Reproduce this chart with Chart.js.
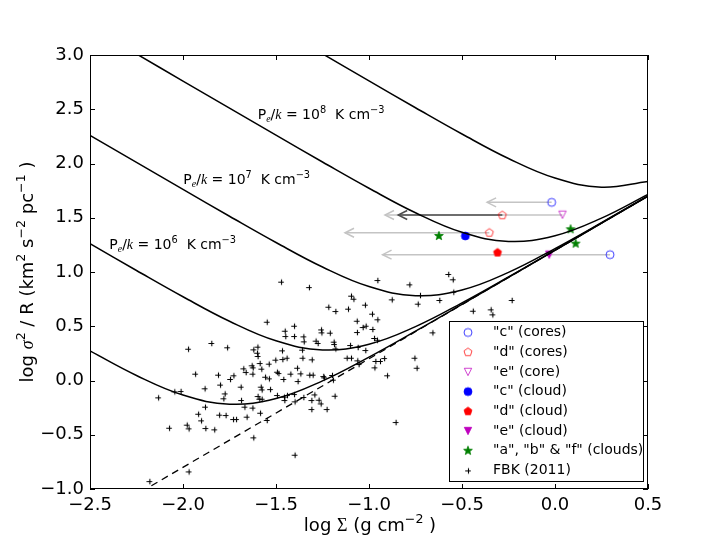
<!DOCTYPE html>
<html><head><meta charset="utf-8">
<script src="https://cdn.jsdelivr.net/npm/chart.js@4/dist/chart.umd.min.js"></script>
<style>html,body{margin:0;padding:0;background:#fff;}canvas{display:block;}</style>
</head><body>
<canvas id="c" width="720" height="544"></canvas>
<script>
// ---------- DATA ----------
const xTicks = [-2.5, -2.0, -1.5, -1.0, -0.5, 0.0, 0.5];
const xTickLabels = ['\u22122.5', '\u22122.0', '\u22121.5', '\u22121.0', '\u22120.5', '0.0', '0.5'];
const yTicks = [-1.0, -0.5, 0.0, 0.5, 1.0, 1.5, 2.0, 2.5, 3.0];
const yTickLabels = ['\u22121.0', '\u22120.5', '0.0', '0.5', '1.0', '1.5', '2.0', '2.5', '3.0'];

// model curves (log sigma^2/R vs log Sigma) for P_e/k = 1e5 ... 1e9
const curveX = [-2.5, -2.25, -2.0, -1.75, -1.5, -1.25, -1.0, -0.75, -0.5, -0.25, 0.0, 0.25, 0.5];
const curveP5 = [0.272, 0.046, -0.134, -0.218, -0.166, -0.003, 0.216, 0.455, 0.702, 0.951, 1.200, 1.450, 1.700];
const curveP6 = [1.261, 1.014, 0.772, 0.546, 0.366, 0.282, 0.335, 0.497, 0.716, 0.955, 1.202, 1.451, 1.700];
const curveP7 = [2.260, 2.011, 1.761, 1.514, 1.272, 1.046, 0.866, 0.782, 0.835, 0.997, 1.216, 1.455, 1.702];
const curveP8 = [3.260, 3.010, 2.760, 2.510, 2.261, 2.014, 1.772, 1.546, 1.366, 1.282, 1.335, 1.497, 1.716];
const curveP9 = [null, null, null, null, 3.260, 3.011, 2.761, 2.514, 2.272, 2.046, 1.866, 1.782, 1.835];

// dashed virial line
const dashX = [-2.17, 0.5];
const dashY = [-0.97, 1.70];

// FBK (2011) points
const fbkX = [-1.473,-1.323,-0.955,-0.783,-0.878,-0.726,-0.622,-1.097,-1.084,-1.219,
-1.181,-1.022,-1.113,-1.066,-0.984,-0.955,-1.018,-1.034,-1.065,-0.982,
-0.973,-0.957,-0.738,-0.659,-1.550,-1.403,-1.453,-1.450,-1.403,-1.353,
-1.351,-1.287,-1.276,-1.258,-1.256,-1.211,-1.190,-1.188,-1.181,-1.102,
-1.061,-1.020,-1.848,-1.973,-1.763,-1.622,-1.600,-1.602,-1.599,-1.468,
-1.466,-1.443,-1.360,-1.358,-1.308,-1.120,-1.097,-1.063,-0.966,-0.941,
-0.919,-1.056,-0.971,-0.903,-0.756,-0.744,-1.935,-1.812,-1.884,-1.801,
-1.747,-1.729,-1.676,-1.663,-1.631,-1.625,-1.627,-1.588,-1.579,-1.539,
-1.504,-1.495,-1.487,-1.559,-1.538,-1.461,-1.423,-1.387,-1.369,-1.384,
-1.321,-1.303,-1.246,-1.242,-1.199,-1.194,-2.047,-2.013,-2.134,-2.075,
-1.980,-1.970,-1.919,-1.903,-1.882,-1.880,-1.832,-1.806,-1.771,-1.783,
-1.776,-1.731,-1.715,-1.690,-1.688,-1.670,-1.658,-1.627,-1.622,-1.586,
-1.582,-1.577,-1.599,-1.590,-1.577,-1.532,-1.550,-1.495,-1.457,-1.455,
-1.441,-1.403,-1.400,-1.353,-1.310,-1.310,-1.294,-1.271,-1.260,-1.228,
-1.185,-1.400,-0.857,-1.970,-2.181,-0.574,-0.550,-0.547,-0.442,-0.346,
-0.337,-0.233];
const fbkY = [0.911,0.861,0.926,0.886,0.748,0.788,0.742,0.782,0.754,0.680,
0.640,0.699,0.662,0.551,0.616,0.564,0.505,0.493,0.447,0.475,
0.392,0.376,0.708,0.444,0.542,0.505,0.459,0.410,0.410,0.407,
0.361,0.367,0.346,0.471,0.444,0.441,0.358,0.336,0.296,0.327,
0.309,0.281,0.346,0.293,0.306,0.287,0.312,0.256,0.226,0.278,
0.198,0.210,0.284,0.210,0.195,0.210,0.210,0.186,0.180,0.180,
0.207,0.152,0.121,0.048,0.210,0.118,0.063,0.054,-0.072,-0.038,
0.014,0.048,0.112,0.078,0.140,0.121,0.063,0.161,0.109,0.155,
0.192,0.081,0.069,0.035,0.020,0.014,0.063,0.118,0.066,-0.005,
0.054,0.054,0.041,0.029,0.051,0.008,-0.100,-0.097,-0.155,-0.435,
-0.407,-0.441,-0.306,-0.367,-0.241,-0.438,-0.450,-0.315,-0.318,-0.164,
-0.119,-0.355,-0.355,-0.057,-0.180,-0.241,-0.333,-0.250,-0.524,-0.297,
-0.057,-0.082,-0.143,-0.168,-0.168,-0.079,-0.364,-0.134,-0.149,-0.180,
-0.134,-0.125,-0.192,-0.152,-0.180,-0.263,-0.128,-0.177,-0.211,-0.263,
-0.140,-0.684,-0.383,-0.838,-0.927,0.982,0.933,0.818,0.643,0.656,
0.610,0.742];

// observed markers
const cCoresX = [-0.018, 0.296];   const cCoresY = [1.642, 1.160];
const dCoresX = [-0.283, -0.353];  const dCoresY = [1.523, 1.362];
const eCoreX  = [0.040];           const eCoreY  = [1.528];
const cCloudX = [-0.482];          const cCloudY = [1.332];
const dCloudX = [-0.309];          const dCloudY = [1.179];
const eCloudX = [-0.031];          const eCloudY = [1.160];
const abfX = [-0.624, 0.084, 0.111]; const abfY = [1.332, 1.394, 1.261];

// arrows (from core value leftwards)
const arrowFromX = [-0.018, 0.040, -0.283, -0.353, 0.296];
const arrowToX   = [-0.365, -0.914, -0.843, -1.129, -0.927];
const arrowY     = [1.642, 1.525, 1.525, 1.362, 1.160];
const arrowShade = ['light', 'light', 'dark', 'light', 'light'];

const legendLabels = ['"c" (cores)', '"d" (cores)', '"e" (core)', '"c" (cloud)', '"d" (cloud)', '"e" (cloud)', '"a", "b" & "f" (clouds)', 'FBK (2011)'];
const curveLabelExps = ['6', '7', '8'];
const curveLabelAnchorX = [-2.396, -1.998, -1.598];
const curveLabelAnchorY = [1.209, 1.808, 2.407];

// ---------- STYLE / MARKERS ----------
const SANS = '"DejaVu Sans", sans-serif';
const SERIF = '"Liberation Serif", "DejaVu Serif", serif';
const BLUE = '#0000ff', RED = '#ff0000', MAG = '#bf00bf', GREEN = '#007f00';

function mk(fn) { const c = document.createElement('canvas'); c.width = 18; c.height = 18; const g = c.getContext('2d'); g.translate(9, 9); fn(g); return c; }
function circ(g, r) { g.beginPath(); g.arc(0, 0, r, 0, Math.PI * 2); g.closePath(); }
function pent(g, r) { g.beginPath(); for (let i = 0; i < 5; i++) { const a = -Math.PI / 2 + i * 2 * Math.PI / 5; g.lineTo(r * Math.cos(a), r * Math.sin(a)); } g.closePath(); }
function tri(g, r) { g.beginPath(); g.moveTo(0, r); g.lineTo(-r, -r); g.lineTo(r, -r); g.closePath(); }
function star(g, R) { const r = R * 0.42; g.beginPath(); for (let i = 0; i < 10; i++) { const a = -Math.PI / 2 + i * Math.PI / 5; const rr = i % 2 ? r : R; g.lineTo(rr * Math.cos(a), rr * Math.sin(a)); } g.closePath(); }
function openM(pathFn, r, col) { return mk(g => { pathFn(g, r); g.lineWidth = 1; g.strokeStyle = col; g.globalAlpha = 0.75; g.stroke(); }); }
function fillM(pathFn, r, col) { return mk(g => { pathFn(g, r); g.fillStyle = col; g.fill(); g.lineWidth = 0.8; g.strokeStyle = col; g.stroke(); }); }
const mk_cCore = openM(circ, 4.0, BLUE);
const mk_dCore = openM(pent, 4.2, RED);
const mk_eCore = openM(tri, 3.7, MAG);
const mk_cCloud = fillM(circ, 4.0, BLUE);
const mk_dCloud = fillM(pent, 4.2, RED);
const mk_eCloud = fillM(tri, 3.7, MAG);
const mk_abf = fillM(star, 4.6, GREEN);
const mk_fbk = mk(g => { g.strokeStyle = '#000'; g.lineWidth = 1.1; g.beginPath(); g.moveTo(-2.8, 0.5); g.lineTo(2.8, 0.5); g.moveTo(0.5, -2.3); g.lineTo(0.5, 3.3); g.stroke(); });
const legendMarkers = [mk_cCore, mk_dCore, mk_eCore, mk_cCloud, mk_dCloud, mk_eCloud, mk_abf, mk_fbk];

function pts(xs, ys) { const o = []; xs.forEach((x, i) => { if (ys[i] !== null) o.push({ x: x, y: ys[i] }); }); return o; }
function curveDS(ys) { return { data: pts(curveX, ys), showLine: true, borderColor: '#000', borderWidth: 1.5, pointRadius: 0, tension: 0.4, fill: false }; }
function markDS(xs, ys, img) { return { data: pts(xs, ys), showLine: false, pointStyle: img, pointRadius: 5, pointHoverRadius: 5 }; }

const datasets = [
  curveDS(curveP5), curveDS(curveP6), curveDS(curveP7), curveDS(curveP8), curveDS(curveP9),
  { data: pts(dashX, dashY), showLine: true, borderColor: '#000', borderWidth: 1.3, borderDash: [7, 5], pointRadius: 0, tension: 0 },
  markDS(fbkX, fbkY, mk_fbk),
  markDS(cCoresX, cCoresY, mk_cCore), markDS(dCoresX, dCoresY, mk_dCore), markDS(eCoreX, eCoreY, mk_eCore),
  markDS(cCloudX, cCloudY, mk_cCloud), markDS(dCloudX, dCloudY, mk_dCloud), markDS(eCloudX, eCloudY, mk_eCloud),
  markDS(abfX, abfY, mk_abf)
];

// ---------- rich text ----------
function partFont(p, size) { const s = (p.sup || p.sub) ? size * 0.7 : size; return (p.italic ? 'italic ' : '') + s.toFixed(1) + 'px ' + (p.serif ? SERIF : SANS); }
function drawRich(ctx, parts, x, y, size, align) {
  let total = 0; const ws = [];
  parts.forEach(p => { ctx.font = partFont(p, size); const w = ctx.measureText(p.t).width; ws.push(w); total += w; });
  let cx = align === 'center' ? x - total / 2 : x;
  ctx.textBaseline = 'alphabetic'; ctx.textAlign = 'left';
  parts.forEach((p, i) => { ctx.font = partFont(p, size); const dy = p.sup ? -0.42 * size : (p.sub ? 0.22 * size : 0); ctx.fillText(p.t, cx, y + dy); cx += ws[i]; });
}

const decor = {
  id: 'decor',
  beforeDatasetsDraw(chart) {
    const { ctx, scales: { x, y } } = chart;
    ctx.save();
    arrowFromX.forEach((fx, i) => {
      const x0 = x.getPixelForValue(fx), x1 = x.getPixelForValue(arrowToX[i]), yy = y.getPixelForValue(arrowY[i]);
      ctx.strokeStyle = arrowShade[i] === 'dark' ? '#4d4d4d' : '#c4c4c4';
      ctx.lineWidth = 1.5;
      ctx.beginPath(); ctx.moveTo(x0, yy); ctx.lineTo(x1, yy); ctx.stroke();
      ctx.beginPath(); ctx.moveTo(x1 + 9, yy - 4.5); ctx.lineTo(x1, yy); ctx.lineTo(x1 + 9, yy + 4.5); ctx.stroke();
    });
    ctx.restore();
  },
  afterDatasetsDraw(chart) {
    const { ctx, chartArea: a, scales: { x, y } } = chart;
    ctx.save();
    ctx.strokeStyle = '#000'; ctx.lineWidth = 1;
    ctx.strokeRect(Math.round(a.left) + 0.5, Math.round(a.top) + 0.5, Math.round(a.right - a.left) - 1, Math.round(a.bottom - a.top) - 1);
    ctx.beginPath();
    xTicks.forEach(v => { const p = Math.round(x.getPixelForValue(v)) + 0.5; ctx.moveTo(p, a.bottom); ctx.lineTo(p, a.bottom - 5); ctx.moveTo(p, a.top); ctx.lineTo(p, a.top + 5); });
    yTicks.forEach(v => { const p = Math.round(y.getPixelForValue(v)) + 0.5; ctx.moveTo(a.left, p); ctx.lineTo(a.left + 5, p); ctx.moveTo(a.right, p); ctx.lineTo(a.right - 5, p); });
    ctx.stroke();
    // curve labels
    ctx.fillStyle = '#000';
    curveLabelExps.forEach((e, i) => {
      const px = x.getPixelForValue(curveLabelAnchorX[i]), py = y.getPixelForValue(curveLabelAnchorY[i]);
      drawRich(ctx, [{ t: 'P' }, { t: 'e', sub: true, italic: true, serif: true }, { t: '/' }, { t: 'k', italic: true, serif: true }, { t: ' = 10' }, { t: e, sup: true }, { t: '  K cm' }, { t: '\u22123', sup: true }], px, py, 14, 'left');
    });
    ctx.restore();
  },
  afterDraw(chart) {
    const { ctx } = chart;
    ctx.save();
    // legend
    const bx = 449, by = 321, bw = 194, bh = 160;
    ctx.fillStyle = '#fff'; ctx.fillRect(bx, by, bw, bh);
    ctx.strokeStyle = '#000'; ctx.lineWidth = 1; ctx.strokeRect(bx + 0.5, by + 0.5, bw, bh);
    ctx.fillStyle = '#000'; ctx.font = '14px ' + SANS; ctx.textBaseline = 'middle'; ctx.textAlign = 'left';
    legendLabels.forEach((t, i) => {
      const ry = by + 11.5 + i * 19.7;
      const im = legendMarkers[i]; ctx.drawImage(im, 468 - im.width / 2, ry - im.height / 2);
      ctx.fillText(t, 493, ry);
    });
    // axis titles
    ctx.fillStyle = '#000';
    drawRich(ctx, [{ t: 'log ' }, { t: '\u03a3', serif: true }, { t: ' (g cm' }, { t: '\u22122', sup: true }, { t: ' )' }], 370, 531, 18, 'center');
    ctx.translate(33, 272); ctx.rotate(-Math.PI / 2);
    drawRich(ctx, [{ t: 'log ' }, { t: '\u03c3', italic: true, serif: true }, { t: '2', sup: true }, { t: ' / R (km' }, { t: '2', sup: true }, { t: ' s' }, { t: '\u22122', sup: true }, { t: ' pc' }, { t: '\u22121', sup: true }, { t: ' )' }], 0, 0, 18, 'center');
    ctx.restore();
  }
};

new Chart(document.getElementById('c'), {
  type: 'scatter',
  data: { datasets: datasets },
  options: {
    responsive: false, animation: false, devicePixelRatio: 1,
    layout: { padding: { top: 55, right: 72, bottom: 0, left: 0 } },
    plugins: { legend: { display: false }, tooltip: { enabled: false } },
    scales: {
      x: {
        type: 'linear', min: -2.5, max: 0.5,
        grid: { display: false, drawTicks: false }, border: { display: false },
        afterBuildTicks: s => { s.ticks = xTicks.map(v => ({ value: v })); },
        ticks: { callback: v => xTickLabels[xTicks.indexOf(v)], color: '#000', font: { family: 'DejaVu Sans', size: 18 }, padding: 6, maxRotation: 0, autoSkip: false },
        afterFit: s => { s.height = 55; }
      },
      y: {
        type: 'linear', min: -1.0, max: 3.0,
        grid: { display: false, drawTicks: false }, border: { display: false },
        afterBuildTicks: s => { s.ticks = yTicks.map(v => ({ value: v })); },
        ticks: { callback: v => yTickLabels[yTicks.indexOf(v)], color: '#000', font: { family: 'DejaVu Sans', size: 18 }, padding: 6, autoSkip: false },
        afterFit: s => { s.width = 90; }
      }
    }
  },
  plugins: [decor]
});
</script>
</body></html>
